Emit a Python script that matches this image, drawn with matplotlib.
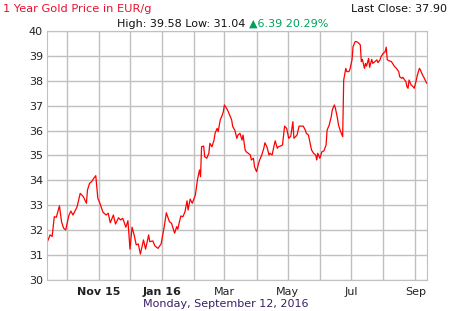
import numpy as np
import pandas as pd
import matplotlib
matplotlib.use("Agg")
import matplotlib.pyplot as plt
import matplotlib.dates as mdates

# gold price EUR/g
dates = [
    "2015-09-12", "2015-09-15", "2015-09-17", "2015-09-19", "2015-09-21", "2015-09-24", "2015-09-26",
    "2015-09-28", "2015-09-30", "2015-10-03", "2015-10-05", "2015-10-07", "2015-10-11", "2015-10-14",
    "2015-10-17", "2015-10-20", "2015-10-21", "2015-10-23", "2015-10-25", "2015-10-27", "2015-10-29",
    "2015-10-31", "2015-11-02", "2015-11-05", "2015-11-08", "2015-11-10", "2015-11-12", "2015-11-15",
    "2015-11-17", "2015-11-20", "2015-11-22", "2015-11-24", "2015-11-27", "2015-11-29", "2015-12-01",
    "2015-12-03", "2015-12-05", "2015-12-07", "2015-12-09", "2015-12-11", "2015-12-14", "2015-12-16",
    "2015-12-19", "2015-12-20", "2015-12-23", "2015-12-25", "2015-12-28", "2015-12-31",
    "2016-01-03", "2016-01-05", "2016-01-08", "2016-01-10", "2016-01-13", "2016-01-15", "2016-01-16",
    "2016-01-19", "2016-01-21", "2016-01-23", "2016-01-25", "2016-01-26", "2016-01-28", "2016-01-30",
    "2016-02-02", "2016-02-04", "2016-02-06", "2016-02-07", "2016-02-08", "2016-02-10", "2016-02-11",
    "2016-02-13", "2016-02-15", "2016-02-16", "2016-02-18", "2016-02-20", "2016-02-21", "2016-02-23",
    "2016-02-24", "2016-02-26", "2016-02-28", "2016-02-29", "2016-03-01", "2016-03-03", "2016-03-04",
    "2016-03-06", "2016-03-08", "2016-03-09", "2016-03-11", "2016-03-13", "2016-03-14", "2016-03-16",
    "2016-03-18", "2016-03-19", "2016-03-21", "2016-03-22", "2016-03-24", "2016-03-26", "2016-03-27",
    "2016-03-29", "2016-03-30", "2016-04-01", "2016-04-03", "2016-04-04", "2016-04-06", "2016-04-08",
    "2016-04-09", "2016-04-11", "2016-04-13", "2016-04-14", "2016-04-16", "2016-04-18", "2016-04-19",
    "2016-04-21", "2016-04-22", "2016-04-24", "2016-04-26", "2016-04-28", "2016-04-30", "2016-05-02",
    "2016-05-04", "2016-05-06", "2016-05-07", "2016-05-10", "2016-05-12", "2016-05-16", "2016-05-18",
    "2016-05-19", "2016-05-21", "2016-05-23", "2016-05-24", "2016-05-26", "2016-05-28", "2016-05-29",
    "2016-05-30", "2016-06-01", "2016-06-02", "2016-06-03", "2016-06-05", "2016-06-07", "2016-06-08",
    "2016-06-10", "2016-06-12", "2016-06-13", "2016-06-15", "2016-06-16", "2016-06-18", "2016-06-19",
    "2016-06-21", "2016-06-23", "2016-06-24", "2016-06-26", "2016-06-27", "2016-06-29", "2016-06-30",
    "2016-07-02", "2016-07-03", "2016-07-05", "2016-07-06", "2016-07-08", "2016-07-10", "2016-07-11",
    "2016-07-12", "2016-07-14", "2016-07-15", "2016-07-16", "2016-07-18", "2016-07-19", "2016-07-21",
    "2016-07-22", "2016-07-24", "2016-07-26", "2016-07-27", "2016-07-29", "2016-07-30", "2016-08-01",
    "2016-08-03", "2016-08-04", "2016-08-05", "2016-08-07", "2016-08-09", "2016-08-12", "2016-08-13",
    "2016-08-16", "2016-08-17", "2016-08-19", "2016-08-20", "2016-08-23", "2016-08-24", "2016-08-25",
    "2016-08-26", "2016-08-28", "2016-08-30", "2016-08-31", "2016-09-02", "2016-09-03", "2016-09-05",
    "2016-09-06", "2016-09-08", "2016-09-09", "2016-09-12",
]
prices = [
    31.50, 31.81, 31.75, 32.54, 32.52, 32.98, 32.34,
    32.08, 32.01, 32.58, 32.77, 32.61, 32.94, 33.48,
    33.35, 33.08, 33.61, 33.88, 33.95, 34.08, 34.19,
    33.28, 33.08, 32.72, 32.61, 32.68, 32.30, 32.61,
    32.25, 32.50, 32.41, 32.48, 32.12, 32.38, 31.24,
    32.12, 31.81, 31.41, 31.45, 31.04, 31.61, 31.24,
    31.81, 31.54, 31.57, 31.37, 31.27, 31.45,
    32.14, 32.70, 32.34, 32.28, 31.88, 32.14, 32.04,
    32.57, 32.54, 32.74, 33.18, 32.81, 33.25, 33.08,
    33.41, 34.02, 34.42, 34.15, 35.35, 35.38, 34.95,
    34.89, 35.09, 35.49, 35.35, 35.62, 35.89, 36.09,
    35.96, 36.43, 36.63, 36.76, 37.03, 36.90, 36.83,
    36.63, 36.43, 36.16, 36.02, 35.69, 35.82, 35.89,
    35.62, 35.82, 35.22, 35.15, 35.09, 35.02, 34.82,
    34.89, 34.55, 34.35, 34.69, 34.82, 35.02, 35.29,
    35.51, 35.35, 35.02, 35.09, 35.02, 35.42, 35.59,
    35.29, 35.35, 35.38, 35.42, 36.18, 36.09, 35.69,
    35.78, 36.36, 35.69, 35.82, 36.18, 36.18, 36.02,
    35.89, 35.82, 35.42, 35.22, 35.09, 35.02, 34.82,
    35.09, 34.89, 35.02, 35.15, 35.19, 35.42, 36.02,
    36.22, 36.56, 36.83, 37.03, 36.90, 36.49, 36.22,
    35.96, 35.76, 38.03, 38.50, 38.37, 38.37, 38.46,
    38.84, 39.37, 39.57, 39.58, 39.53, 39.44, 38.77,
    38.86, 38.50, 38.70, 38.59, 38.90, 38.54, 38.86,
    38.70, 38.77, 38.84, 38.73, 38.84, 38.97, 39.10,
    39.17, 39.35, 38.84, 38.80, 38.77, 38.57, 38.54,
    38.37, 38.16, 38.10, 38.14, 37.96, 37.76, 37.70,
    38.03, 37.83, 37.76, 37.70, 38.03, 38.23, 38.50,
    38.43, 38.23, 38.16, 37.90,
]
x_labels = ["", "Nov 15", "", "Jan 16", "", "Mar", "", "May", "", "Jul", "", "Sep"]
bold_labels = ["Nov 15", "Jan 16"]

plt.rcParams['font.family'] = ['DejaVu Sans']

fig = plt.figure(figsize=(4.5, 3.11), dpi=100)
ax = fig.add_axes([47 / 450, 1 - 280 / 311, (426.7 - 47) / 450, (280 - 31) / 311])

x = pd.to_datetime(dates)
ax.plot(x, prices, color="#ff0000", lw=0.9)

ax.set_xlim(pd.Timestamp("2015-09-12"), pd.Timestamp("2016-09-12"))
ax.set_ylim(30, 40)
ax.set_yticks(range(30, 41))
ax.xaxis.set_major_locator(mdates.MonthLocator())
ax.set_xticks(pd.date_range("2015-10-01", "2016-09-01", freq="MS"))
ax.set_xticklabels(x_labels)
for t in ax.get_xticklabels():
    if t.get_text() in bold_labels:
        t.set_fontweight("bold")

ax.grid(True, color="#c0c0c0", lw=1)
ax.set_axisbelow(True)
for s in ax.spines.values():
    s.set_color("#c0c0c0")
ax.tick_params(length=0, labelsize=8, colors="#222222", pad=3)
ax.tick_params(axis="x", pad=5)

fig.text(3 / 450, 1 - 9 / 311, "1 Year Gold Price in EUR/g", color="#e8102e",
         fontsize=8.2, ha="left", va="center")
fig.text(447 / 450, 1 - 9 / 311, "Last Close: 37.90", color="#111111",
         fontsize=8, ha="right", va="center")
fig.text(249 / 450, 1 - 24 / 311, "High: 39.58 Low: 31.04 ", color="#111111",
         fontsize=8, ha="right", va="center")
fig.text(249 / 450, 1 - 24 / 311, "\u25b26.39 20.29%", color="#00a05a",
         fontsize=8, ha="left", va="center")
fig.text(226 / 450, 1 - 304 / 311, "Monday, September 12, 2016", color="#3a1f66",
         fontsize=8, ha="center", va="center")

fig.savefig("out.png", dpi=100)
